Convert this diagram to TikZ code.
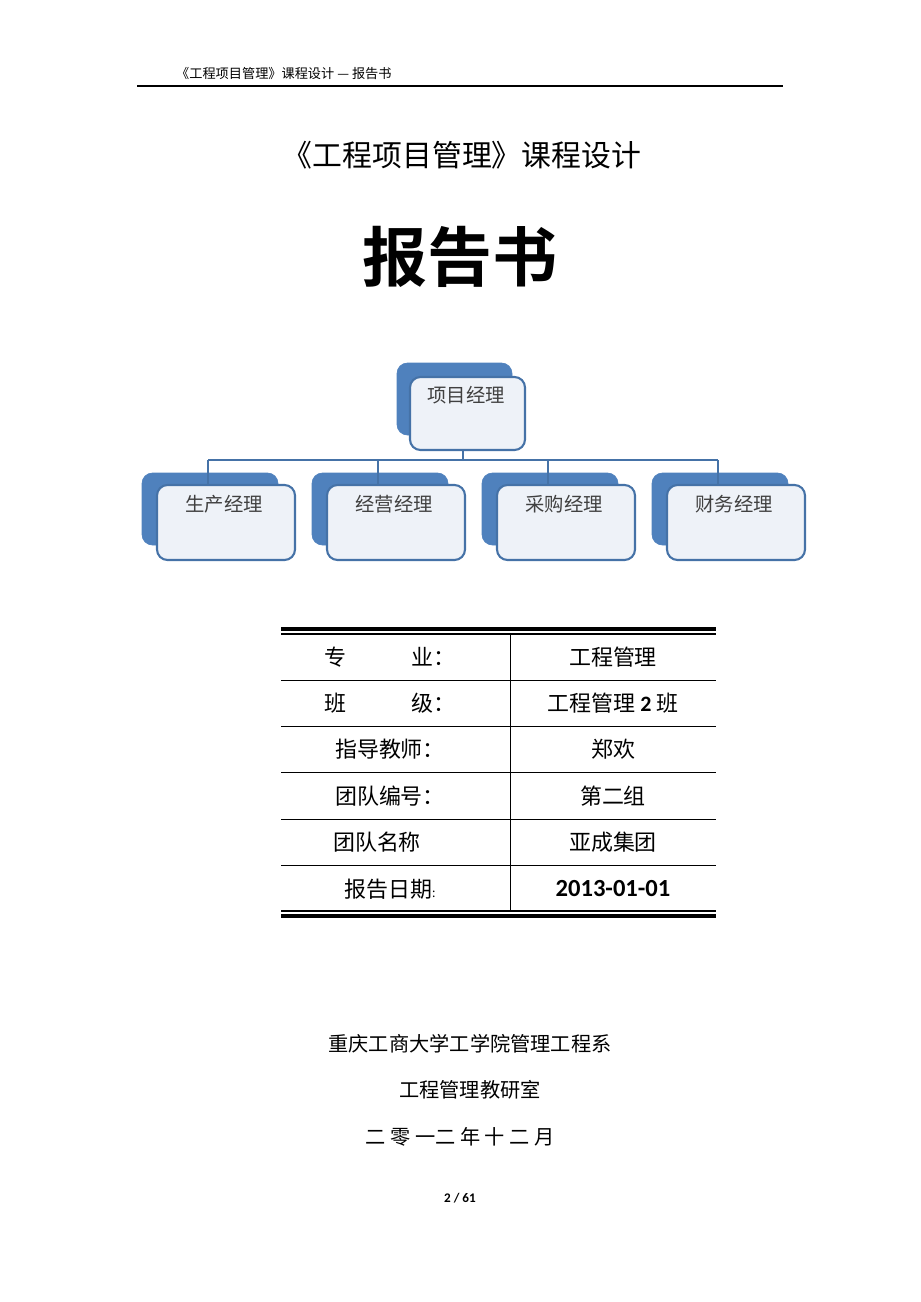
\documentclass[tikz,border=0pt]{standalone}
\usepackage{fontspec}
\setmainfont{Carlito}
\newfontfamily\cjk{Noto Sans CJK SC}
\newfontfamily\cjkb{Noto Sans CJK SC Bold}
\usetikzlibrary{positioning}
\definecolor{backblue}{RGB}{79,129,189}
\definecolor{lineblue}{RGB}{69,114,167}
\definecolor{fillpale}{RGB}{238,242,248}
\begin{document}
\begin{tikzpicture}[x=0.02cm,y=-0.02cm]
\tikzstyle{backbox} = [draw=backblue, fill=backblue, rounded corners=6pt]
\tikzstyle{frontbox} = [draw=lineblue, line width=1.2pt, fill=fillpale, rounded corners=6pt]
\tikzstyle{boxtext} = [font=\cjk\fontsize{11}{13}\selectfont, text=black!75]
\tikzstyle{link} = [draw=lineblue, line width=1.2pt]
\tikzstyle{cell} = [font=\cjk\fontsize{12.5}{15}\selectfont]
\useasboundingbox (0,0) rectangle (920,1302);
% header
\node[font=\cjk\fontsize{7.5}{9}\selectfont, anchor=west] (head) at (170,74) {《工程项目管理》课程设计 — 报告书};
\draw[line width=0.6pt] (137,86) -- (783,86);
\node[font=\cjk\fontsize{17}{20}\selectfont] (title) at (462,155) {《工程项目管理》课程设计};
\node[font=\cjkb\fontsize{37}{42}\selectfont] (report) at (460,257) {报告书};
% org chart
\fill[backbox] (397,363) rectangle (512,435);
\filldraw[frontbox] (410,377) rectangle (525,450);
\node[boxtext] (pm) at (466,395) {项目经理};
\coordinate (pmbot) at (463,450);
\coordinate (bus) at (463,460);
\foreach \x/\name/\txt in {142/a/生产经理, 312/b/经营经理, 482/c/采购经理, 652/d/财务经理} {
  \fill[backbox] (\x,473) rectangle (\x+136,545);
  \filldraw[frontbox] (\x+15,485) rectangle (\x+153,560);
  \node[boxtext] (\name) at (\x+82,504) {\txt};
  \coordinate (\name top) at (\x+66,485);
  \draw[link] (\x+66,460) -- (\name top);
}
\draw[link] (pmbot) -- (bus);
\draw[link] (208,460) -- (718,460);
% table
\draw[line width=2.2pt] (281,629) -- (716,629);
\draw[line width=0.6pt] (281,634) -- (716,634);
\draw[line width=0.6pt] (281,911) -- (716,911);
\draw[line width=2.2pt] (281,916) -- (716,916);
\foreach \y in {680,726,772,819,865} \draw[line width=0.5pt] (281,\y) -- (716,\y);
\draw[line width=0.5pt] (510,634) -- (510,911);
\node[cell] (k1) at (390,657) {专\hspace{3em}业：};
\node[cell] (k2) at (390,703) {班\hspace{3em}级：};
\node[cell] (k3) at (390,749) {指导教师：};
\node[cell] (k4) at (390,796) {团队编号：};
\node[cell] (k5) at (388,842) {团队名称\phantom{：}};
\node[cell] (k6) at (390,889) {报告日期{\fontsize{7}{8}\selectfont :}};
\node[cell] (v1) at (613,657) {工程管理};
\node[cell] (v2) at (613,703) {工程管理 {\bfseries\rmfamily 2} 班};
\node[cell] (v3) at (613,749) {郑欢};
\node[cell] (v4) at (613,796) {第二组};
\node[cell] (v5) at (613,842) {亚成集团};
\node[font=\bfseries\fontsize{14}{16}\selectfont] (v6) at (613,889) {2013-01-01};
% footer
\node[font=\cjk\fontsize{11.5}{14}\selectfont] (school) at (470,1044) {重庆工商大学工学院管理工程系};
\node[font=\cjk\fontsize{11.5}{14}\selectfont] (office) at (470,1090) {工程管理教研室};
\node[font=\cjk\fontsize{11.5}{14}\selectfont] (date) at (460,1137) {二\ 零\ 一二\ 年\ 十\ 二\ 月};
\node[font=\bfseries\fontsize{7.5}{9}\selectfont] (page) at (460,1198) {2 / 61};
\end{tikzpicture}
\end{document}
